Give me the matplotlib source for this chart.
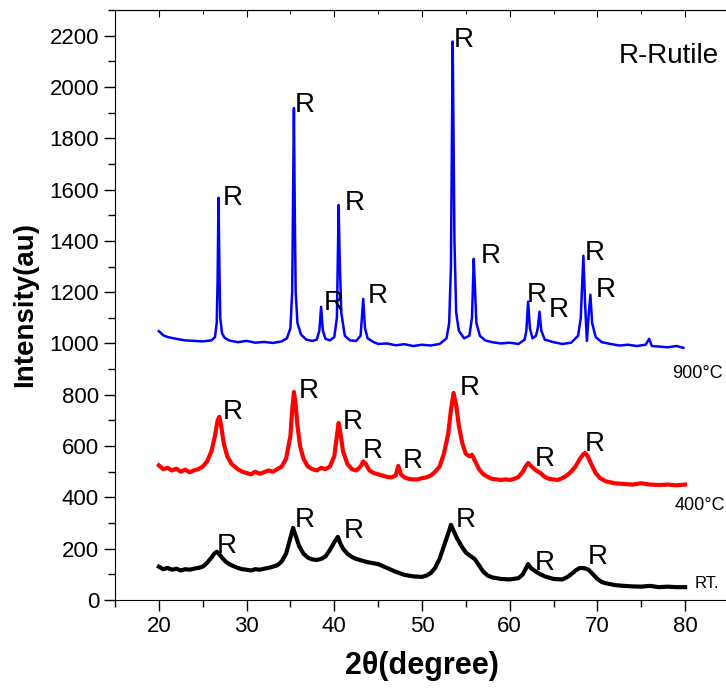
import matplotlib
matplotlib.use('Agg')
import matplotlib.pyplot as plt
from matplotlib.ticker import MultipleLocator

plt.rcParams['font.family'] = ['Liberation Sans', 'DejaVu Sans']

# 900 C pattern (blue)
blue_x = [20, 20.5, 21, 22, 23, 24, 25, 26, 26.4, 26.6, 26.7, 26.8, 26.9, 27.0, 27.2, 27.5,
          28, 29, 30, 31, 32, 33, 34, 34.6, 35.0, 35.2, 35.4, 35.5, 35.6, 35.8, 36.2, 36.8,
          37.5, 38.0, 38.3, 38.5, 38.7, 39.0, 39.5, 40.0, 40.3, 40.5, 40.6, 40.8, 41.2, 41.8,
          42.5, 43.0, 43.3, 43.5, 43.8, 44.5, 45, 46, 47, 48, 49, 50, 51, 52, 52.8, 53.1,
          53.3, 53.5, 53.6, 53.7, 53.9, 54.2, 54.8, 55.4, 55.7, 55.9, 56.0, 56.2, 56.6, 57.2,
          58, 59, 60, 61, 61.7, 61.9, 62.1, 62.3, 62.6, 63.0, 63.2, 63.4, 63.6, 64.0, 65,
          66, 67, 67.8, 68.1, 68.4, 68.6, 68.8, 69.0, 69.2, 69.4, 69.8, 70.5, 71.5, 72.5,
          73.5, 74.5, 75.5, 75.9, 76.2, 77, 78, 79, 79.8]
blue_y = [1048, 1032, 1025, 1018, 1012, 1010, 1008, 1012, 1025, 1080, 1250, 1568, 1300, 1100, 1040, 1022,
          1012, 1005, 1010, 1003, 1006, 1002, 1008, 1020, 1060, 1200, 1918, 1500, 1200, 1080, 1035, 1015,
          1010, 1015, 1050, 1143, 1050, 1018, 1012, 1025, 1100, 1540, 1350, 1120, 1030, 1012,
          1010, 1030, 1174, 1060, 1020, 1005, 998, 1000, 993, 997, 990, 995, 992, 998, 1020, 1080,
          1300, 2177, 1800, 1400, 1120, 1050, 1020, 1030, 1100, 1330, 1250, 1080, 1030, 1012,
          1005, 1000, 1003, 998, 1015, 1050, 1163, 1060, 1020, 1030, 1060, 1124, 1050, 1015, 1005,
          998, 1003, 1030, 1100, 1342, 1150, 1010, 1110, 1190, 1080, 1025, 1005, 998, 992,
          995, 990, 995, 1018, 990, 988, 985, 990, 983]

# 400 C pattern (red)
red_x = [20, 20.5, 21, 21.5, 22, 22.5, 23, 23.5, 24, 24.5, 25, 25.5, 26, 26.4, 26.7, 26.9,
         27.1, 27.4, 27.8, 28.3, 29, 29.5, 30, 30.5, 31, 31.5, 32, 32.5, 33, 33.5, 34, 34.5,
         35, 35.2, 35.4, 35.6, 35.8, 36.1, 36.5, 37, 37.5, 38, 38.5, 39, 39.5, 40, 40.3, 40.5,
         40.7, 41, 41.5, 42, 42.5, 43, 43.3, 43.6, 44, 44.5, 45, 45.5, 46, 46.5, 47, 47.3,
         47.6, 48, 48.5, 49, 49.5, 50, 50.5, 51, 51.5, 52, 52.5, 53, 53.3, 53.6, 53.9, 54.2,
         54.6, 55, 55.4, 55.7, 56, 56.5, 57, 57.5, 58, 58.5, 59, 59.5, 60, 60.5, 61, 61.5,
         61.8, 62.1, 62.5, 63, 63.5, 64, 64.5, 65, 65.5, 66, 66.5, 67, 67.5, 68, 68.4, 68.6,
         68.9, 69.3, 69.8, 70.3, 71, 72, 73, 74, 75, 76, 77, 78, 79, 80]
red_y = [525, 510, 515, 505, 512, 500, 508, 498, 505, 510, 520, 540, 580, 640, 700, 714,
         680, 610, 560, 530, 510, 500, 495, 490, 500, 492, 498, 505, 500, 510, 520, 550,
         640, 740, 811, 760, 680, 600, 550, 520, 510, 505, 515, 510, 520, 560, 640, 690,
         650, 580, 530, 510, 505, 520, 540, 530, 505, 495, 490, 485, 480, 478, 485, 523,
         490, 478, 472, 470, 470, 475, 478, 485, 500, 520, 570, 650, 740, 807, 760, 680,
         610, 570, 560, 566, 545, 510, 490, 480, 472, 470, 468, 470, 468, 472, 480, 500,
         520, 534, 520, 505, 495, 480, 472, 470, 468, 475, 485, 500, 520, 550, 568, 573,
         560, 530, 495, 475, 462, 455, 452, 450, 455, 450, 448, 450, 447, 450]

# room temperature pattern (black)
rt_x = [20, 20.5, 21, 21.5, 22, 22.5, 23, 23.5, 24, 24.5, 25, 25.5, 26, 26.3, 26.6, 26.9,
        27.2, 27.6, 28, 28.5, 29, 29.5, 30, 30.5, 31, 31.5, 32, 32.5, 33, 33.5, 34, 34.5,
        34.9, 35.3, 35.6, 36, 36.5, 37, 37.5, 38, 38.5, 39, 39.5, 40, 40.4, 40.7, 41, 41.5,
        42, 42.5, 43, 43.5, 44, 45, 46, 47, 48, 49, 50, 50.5, 51, 51.5, 52, 52.5, 53, 53.3,
        53.6, 54, 54.5, 55, 55.5, 56, 56.5, 57, 57.5, 58, 59, 60, 61, 61.5, 61.8, 62.1, 62.4,
        63, 63.5, 64, 65, 66, 66.5, 67, 67.5, 68, 68.5, 69, 69.5, 70, 70.5, 71, 72, 73, 74,
        75, 76, 77, 78, 79, 80]
rt_y = [130, 120, 125, 118, 122, 115, 120, 118, 122, 125, 130, 145, 165, 180, 188, 178,
        165, 150, 140, 132, 125, 120, 118, 115, 120, 118, 122, 125, 130, 135, 150, 180,
        230, 281, 250, 210, 180, 165, 158, 156, 160, 170, 195, 225, 246, 220, 200, 180,
        168, 160, 155, 150, 146, 140, 125, 110, 98, 92, 90, 95, 105, 125, 160, 210, 260, 293,
        270, 240, 210, 185, 172, 160, 135, 110, 95, 88, 82, 80, 85, 100, 120, 140, 125,
        110, 100, 92, 82, 80, 88, 100, 115, 125, 124, 118, 100, 82, 70, 65, 58, 55, 53,
        52, 55, 50, 52, 50, 50]

# "R" peak marks: (x, y) of each label
blue_r_x = [27.3, 35.5, 38.8, 41.2, 43.8, 53.65, 56.7, 62.0, 64.4, 68.5, 69.8]
blue_r_y = [1540, 1903, 1131, 1521, 1158, 2157, 1314, 1162, 1104, 1326, 1182]
red_r_x = [27.3, 35.9, 41.0, 43.3, 47.8, 54.3, 62.8, 68.5]
red_r_y = [706, 788, 667, 554, 515, 800, 523, 581]
rt_r_x = [26.6, 35.5, 41.1, 53.9, 62.8, 68.9]
rt_r_y = [183, 285, 242, 285, 117, 140]

fig = plt.figure(figsize=(7.26, 6.89), dpi=100)
ax = fig.add_axes([0.1584, 0.1292, 0.8457, 0.8563])

ax.plot(rt_x, rt_y, color='black', lw=3.0)
ax.plot(red_x, red_y, color='red', lw=3.0)
ax.plot(blue_x, blue_y, color='blue', lw=1.8)

for xs, ys in [(blue_r_x, blue_r_y), (red_r_x, red_r_y), (rt_r_x, rt_r_y)]:
    for x, y in zip(xs, ys):
        ax.text(x, y, 'R', fontsize=20, ha='left', va='baseline')

ax.text(78.5, 866, '900°C', fontsize=13, ha='left', va='baseline')
ax.text(78.8, 351, '400°C', fontsize=13, ha='left', va='baseline')
ax.text(81.1, 47, 'RT.', fontsize=12, ha='left', va='baseline')
ax.text(72.4, 2094, 'R-Rutile', fontsize=20, ha='left', va='baseline')

ax.set_xlim(15, 85)
ax.set_ylim(0, 2300)
ax.set_xticks(range(20, 81, 10))
ax.xaxis.set_minor_locator(MultipleLocator(5))
ax.yaxis.set_major_locator(MultipleLocator(200))
ax.yaxis.set_minor_locator(MultipleLocator(100))
ax.tick_params(which='major', direction='out', length=8, width=1, labelsize=16)
ax.tick_params(which='minor', direction='out', length=5, width=1)
ax.spines['right'].set_visible(False)

# top ticks point inward
top = ax.secondary_xaxis('top')
top.set_xticks(range(20, 81, 10))
top.xaxis.set_minor_locator(MultipleLocator(5))
top.tick_params(which='major', direction='in', length=5, labeltop=False)
top.tick_params(which='minor', direction='in', length=3)

ax.set_xlabel('2θ(degree)', fontsize=22, fontweight='bold', labelpad=10)
ax.set_ylabel('Intensity(au)', fontsize=20, fontweight='bold', labelpad=8)

fig.savefig('out.png', dpi=100)
